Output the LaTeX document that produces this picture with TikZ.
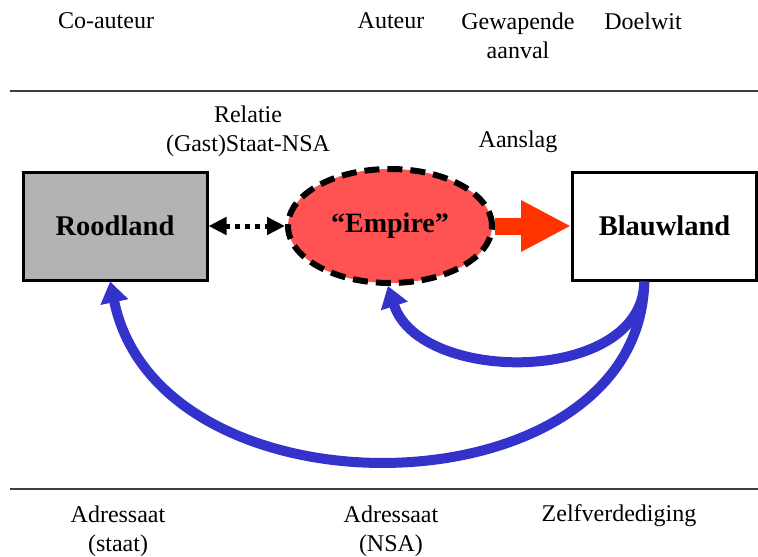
\documentclass[tikz,border=0pt]{standalone}
\usepackage{fontspec}
\setmainfont{Liberation Serif}
\usetikzlibrary{arrows.meta,shapes.geometric}
\definecolor{boxgray}{HTML}{B3B3B3}
\definecolor{empirered}{HTML}{FF5353}
\definecolor{attackred}{HTML}{FF3300}
\definecolor{defblue}{HTML}{3333CC}
\definecolor{rulegray}{HTML}{404040}
\tikzset{
  lbl/.style={font=\fontsize{24}{29}\selectfont, align=center, inner sep=0pt},
  actor/.style={draw=black, line width=3pt, minimum width=184pt, minimum height=108pt,
    inner sep=0pt, font=\fontsize{28.5}{32}\selectfont\bfseries},
  empirenode/.style={ellipse, fill=empirered, draw=black, line width=6pt,
    dash pattern=on 15pt off 8pt, minimum width=204pt, minimum height=114pt,
    inner sep=0pt, font=\fontsize{28}{32}\selectfont\bfseries},
  relation/.style={line width=5pt, dash pattern=on 5pt off 5pt,
    {Triangle[length=18pt,width=17pt]}-{Triangle[length=18pt,width=17pt]}},
  attack/.style={draw=attackred, line width=17pt, -{Triangle[length=50pt,width=48pt]}},
  defence/.style={draw=defblue, line width=10pt, -{Triangle[length=21pt,width=27pt]}},
  divider/.style={draw=rulegray, line width=1.3pt}
}
\begin{document}
\begin{tikzpicture}[x=1pt,y=-1pt]
\useasboundingbox (0,0) rectangle (758,557);

% header and footer rules
\coordinate (t1) at (10,91);  \coordinate (t2) at (758,91);
\coordinate (b1) at (10,489); \coordinate (b2) at (758,489);
\draw[divider] (t1) -- (t2);
\draw[divider] (b1) -- (b2);

% column headings
\node[lbl] (coauteur) at (106,21) {Co-auteur};
\node[lbl] (auteur) at (391,21) {Auteur};
\node[lbl] (aanval) at (518,36) {Gewapende\\aanval};
\node[lbl] (doelwit) at (643,21) {Doelwit};

% relation labels
\node[lbl] (relatie) at (248,131) {Relatie\\(Gast)Staat-NSA};
\node[lbl] (aanslag) at (518,142) {Aanslag};

% actors
\node[actor, fill=boxgray] (rood) at (115,226) {Roodland};
\node[empirenode] (empire) at (390,226) {“Empire”};
\node[actor, fill=white] (blau) at (664.5,226) {Blauwland};

% connectors
\draw[relation] (rood.east) -- (empire.west);
\draw[attack] (empire.east) -- (blau.west);
\draw[defence] (blau.-110) .. controls (643,385) and (420,385) .. (empire.-92);
\draw[defence] (blau.-110) .. controls (640,515) and (160,525) .. (rood.-95);

% footer labels
\node[lbl] (adrstaat) at (118,531) {Adressaat\\(staat)};
\node[lbl] (adrnsa) at (391,531) {Adressaat\\(NSA)};
\node[lbl] (zelfverd) at (619,516) {Zelfverdediging};
\end{tikzpicture}
\end{document}
